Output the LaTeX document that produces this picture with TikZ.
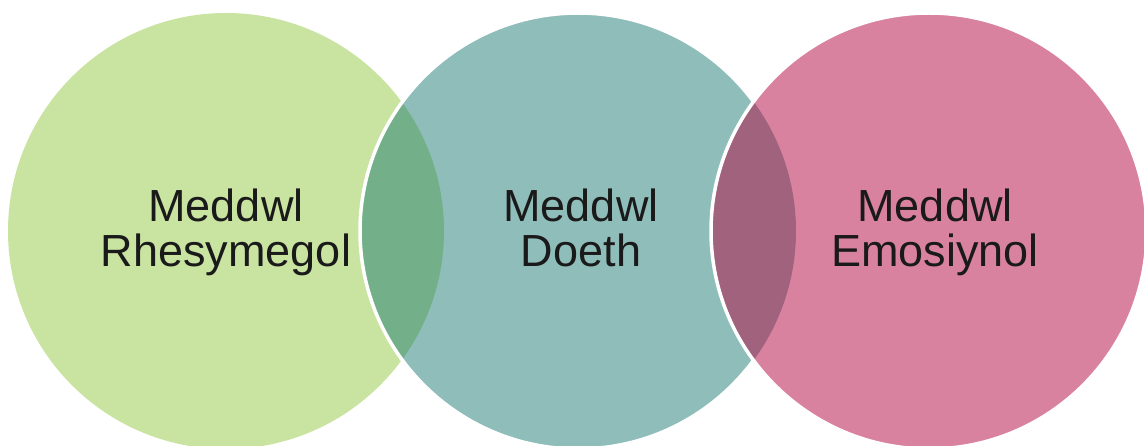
\documentclass[tikz,border=0pt]{standalone}
\usepackage{fontspec}
\setmainfont{Liberation Sans}
\usepackage{tikz}
\usetikzlibrary{positioning}
\definecolor{rhesgreen}{HTML}{C9E3A1}
\definecolor{doethteal}{HTML}{8FBDB9}
\definecolor{emospink}{HTML}{D982A0}
\definecolor{lensgreen}{HTML}{73B08A}
\definecolor{lenspurple}{HTML}{A0627D}
\definecolor{inktext}{HTML}{1A1A1A}
\tikzset{
disc/.style={circle,minimum size=436pt,inner sep=0pt,draw=none},
rim/.style={draw=white,line width=3.5pt},
bigtext/.style={font=\fontsize{45}{45}\selectfont,text=inktext,align=center,inner sep=0pt,anchor=north}
}

\begin{document}
\begin{tikzpicture}[x=1pt,y=-1pt]
\useasboundingbox (0,0) rectangle (1144,446);
\node[disc,fill=rhesgreen] (rhes) at (226,231) {};
\node[disc,fill=doethteal] (doeth) at (578,231) {};
% overlap left
\begin{scope}
\clip (rhes.center) circle (218pt);
\fill[lensgreen] (doeth.center) circle (218pt);
\end{scope}
\draw[rim] (doeth.center) circle (218pt);
\node[disc,fill=emospink] (emos) at (929,231) {};
% overlap right
\begin{scope}
\clip (doeth.center) circle (218pt);
\fill[lenspurple] (emos.center) circle (218pt);
\end{scope}
\draw[rim] (emos.center) circle (218pt);
\node[bigtext] (rhestxt) at (226,189) {Meddwl\\Rhesymegol};
\node[bigtext] (doethtxt) at (581,189) {Meddwl\\Doeth};
\node[bigtext] (emostxt) at (935,189) {Meddwl\\Emosiynol};
\end{tikzpicture}
\end{document}
